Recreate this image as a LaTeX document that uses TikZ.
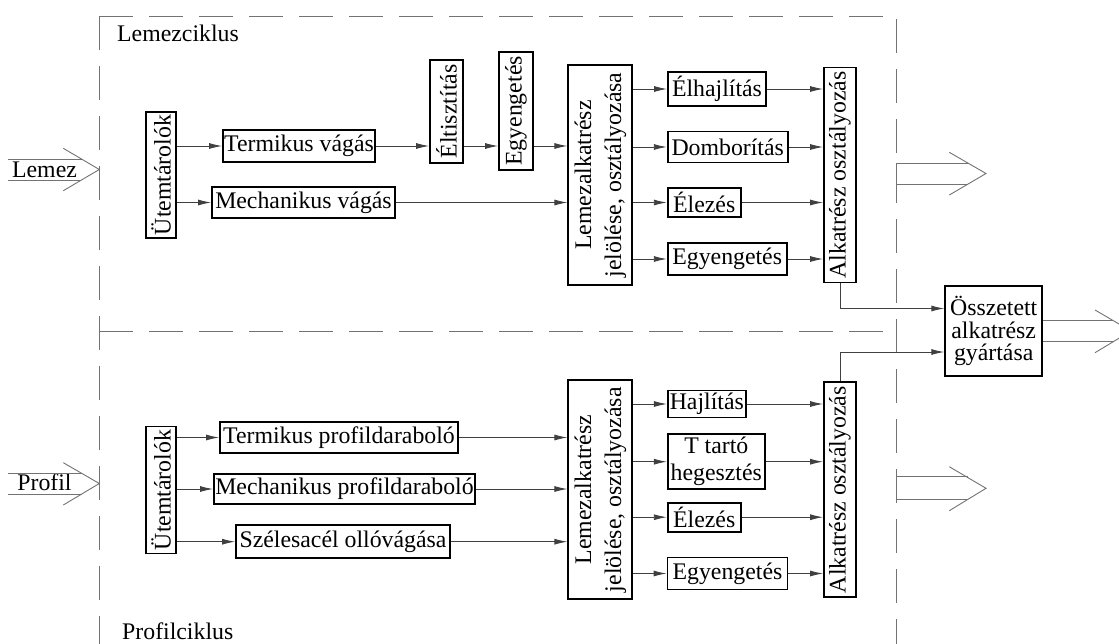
\documentclass[tikz,border=0pt]{standalone}
\usepackage{fontspec}
\setmainfont{Liberation Serif}
\usetikzlibrary{arrows.meta,calc}
\begin{document}
\begin{tikzpicture}[x=1pt,y=-1pt,
  txt/.style={font=\fontsize{23.8}{26}\selectfont, inner sep=0pt},
  box/.style={txt, draw=black, line width=1.8pt, align=center},
  vbox/.style={box, rotate=90},
  conn/.style={draw=black!75, line width=0.9pt, -{Latex[length=13pt,width=6pt]}},
  frame/.style={draw=black!55, line width=0.9pt, dash pattern=on 34pt off 16pt},
  dbl/.style={draw=black!55, line width=0.9pt}]
\useasboundingbox (0,0) rectangle (1119,643);
\clip (0,0) rectangle (1119,643);

% frame
\draw[frame] (99,16) -- (99,650);
\draw[frame] (99,16) -- (896,16) -- (896,650);
\draw[frame] (99,331) -- (896,331);
\node[txt, anchor=west] (lc) at (117,33) {Lemezciklus};
\node[txt, anchor=west] (pc) at (122,631) {Profilciklus};

% inputs
\node[txt] (lin) at (44.5,170) {Lemez};
\draw[dbl] (8,159.5) -- (82.5,159.5) (8,180) -- (81.3,180);
\draw[dbl] (63.3,148.3) -- (99.3,169.5) -- (63.3,190.7);
\node[txt] (pin) at (44.5,482) {Profil};
\draw[dbl] (8,473.3) -- (81.5,473.3) (8,494.3) -- (81.5,494.3);
\draw[dbl] (63.3,462.7) -- (99.3,483.5) -- (63.3,505);

% outputs
\draw[dbl] (896,163.3) -- (968,163.3) (896,184.3) -- (967.5,184.3) (896,163.3) -- (896,184.3);
\draw[dbl] (949.3,152.3) -- (986,173.5) -- (949.3,195);
\draw[dbl] (896,476.7) -- (968,476.7) (896,499) -- (967.5,499) (896,476.7) -- (896,499);
\draw[dbl] (949.3,466.7) -- (986,488.3) -- (949.3,510.7);

% top section
\node[vbox, minimum width=126, minimum height=30] (ut1) at (161,175) {Ütemtárolók};
\node[box, minimum width=152, minimum height=32] (tv) at (299,146) {Termikus vágás};
\node[box, minimum width=183, minimum height=31] (mv) at (303.5,202.5) {Mechanikus vágás};
\node[vbox, minimum width=103, minimum height=33] (elt) at (446.5,111.5) {Éltisztítás};
\node[vbox, minimum width=118, minimum height=34] (egy1) at (516,111) {Egyengetés};
\node[vbox, minimum width=220, minimum height=64, font=\fontsize{23.8}{30}\selectfont] (lem1) at (600.3,175) {Lemezalkatrész\\jelölése, osztályozása};
\node[box, minimum width=98, minimum height=34] (elh) at (717,89) {Élhajlítás};
\node[box, minimum width=120, minimum height=31] (dom) at (727.7,147) {Domborítás};
\node[box, minimum width=73, minimum height=28.5] (ele1) at (704.2,202.5) {Élezés};
\node[box, minimum width=119, minimum height=32] (egy2) at (727.2,259) {Egyengetés};
\node[vbox, minimum width=215, minimum height=32] (alk1) at (840,175) {Alkatrész osztályozás};

\node[box, minimum width=97, minimum height=90, font=\fontsize{23.8}{22.5}\selectfont] (osz) at (993.7,331) {Összetett\\alkatrész\\gyártása};

% bottom section
\node[vbox, minimum width=127, minimum height=30] (ut2) at (161,490) {Ütemtárolók};
\node[box, minimum width=238, minimum height=31.6] (tp) at (339,437.5) {Termikus profildaraboló};
\node[box, minimum width=261, minimum height=30] (mp) at (344.5,489) {Mechanikus profildaraboló};
\node[box, minimum width=214, minimum height=33] (szo) at (343,541.7) {Szélesacél ollóvágása};
\node[vbox, minimum width=219, minimum height=64, font=\fontsize{23.8}{30}\selectfont] (lem2) at (600.3,489.7) {Lemezalkatrész\\jelölése, osztályozása};
\node[box, minimum width=78, minimum height=27] (haj) at (706.8,404) {Hajlítás};
\node[box, minimum width=97, minimum height=55, font=\fontsize{23.8}{27}\selectfont] (tt) at (716.3,461.7) {T tartó\\hegesztés};
\node[box, minimum width=73, minimum height=29] (ele2) at (704.2,517.2) {Élezés};
\node[box, minimum width=120, minimum height=32] (egy3) at (727.5,573.5) {Egyengetés};
\node[vbox, minimum width=215, minimum height=32] (alk2) at (840,489.7) {Alkatrész osztályozás};

% top connectors
\draw[conn] (ut1.south |- tv.west) -- (tv.west);
\draw[conn] (ut1.south |- mv.west) -- (mv.west);
\draw[conn] (tv.east) -- (elt.north |- tv.east);
\draw[conn] (elt.south |- tv.east) -- (egy1.north |- tv.east);
\draw[conn] (egy1.south |- tv.east) -- (lem1.north |- tv.east);
\draw[conn] (mv.east) -- (lem1.north |- mv.east);
\foreach \b in {elh,dom,ele1,egy2}{
  \draw[conn] (lem1.south |- \b.west) -- (\b.west);
  \draw[conn] (\b.east) -- (alk1.north |- \b.east);
}
\draw[conn] (alk1.west) |- ($(osz.west)+(0,-22.5)$);

% bottom connectors
\draw[conn] (ut2.south |- tp.west) -- (tp.west);
\draw[conn] (ut2.south |- mp.west) -- (mp.west);
\draw[conn] (ut2.south |- szo.west) -- (szo.west);
\foreach \b in {tp,mp,szo}{
  \draw[conn] (\b.east) -- (lem2.north |- \b.east);
}
\foreach \b in {haj,tt,ele2,egy3}{
  \draw[conn] (lem2.south |- \b.west) -- (\b.west);
  \draw[conn] (\b.east) -- (alk2.north |- \b.east);
}
\draw[conn] (alk2.east) |- ($(osz.west)+(0,21)$);

% final output
\draw[dbl] (osz.east |- 0,320.7) -- (1113,320.7) (osz.east |- 0,341.7) -- (1113,341.7);
\draw[dbl] (1095,310) -- (1131,331) -- (1095,352.7);
\end{tikzpicture}
\end{document}
